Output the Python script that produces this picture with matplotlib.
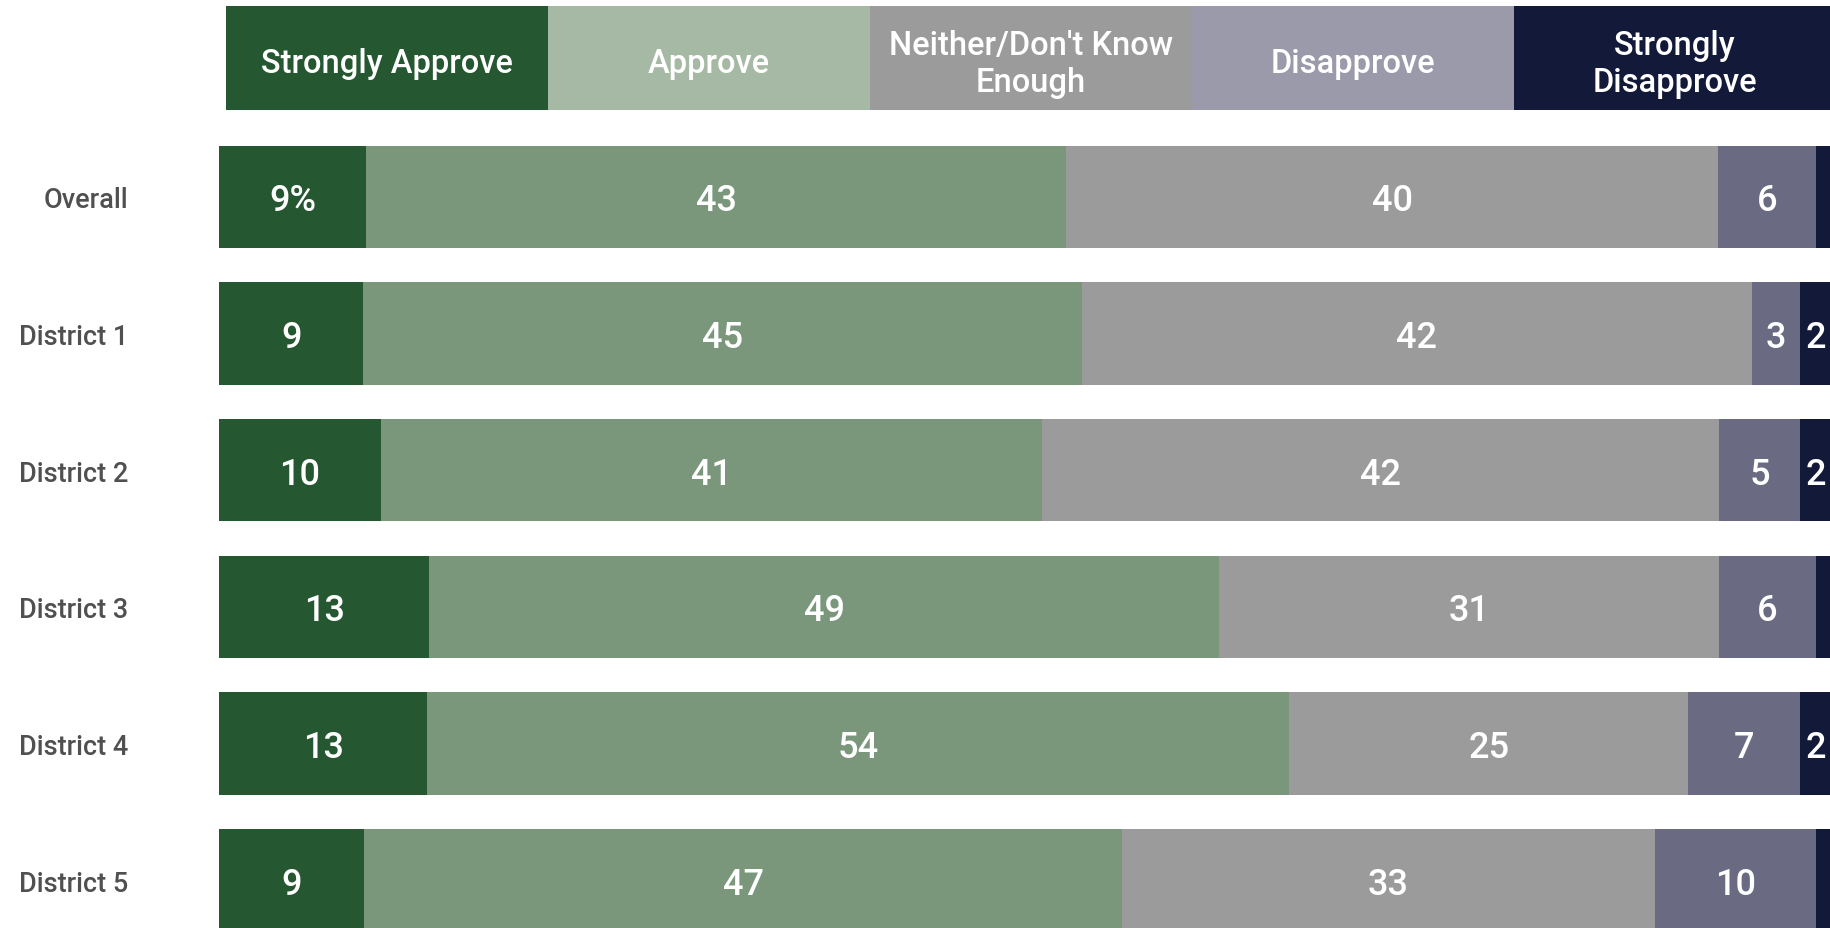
import matplotlib
matplotlib.use("Agg")
import matplotlib.pyplot as plt
import numpy as np

# Survey responses (percent) by area
categories = ["Overall", "District 1", "District 2", "District 3", "District 4", "District 5"]
response_labels = ["Strongly Approve", "Approve", "Neither/Don't Know\nEnough", "Disapprove",
                   "Strongly\nDisapprove"]
strongly_approve = [9, 9, 10, 13, 13, 9]
approve = [43, 45, 41, 49, 54, 47]
neither = [40, 42, 42, 31, 25, 33]
disapprove = [6, 3, 5, 6, 7, 10]
strongly_disapprove = [1, 2, 2, 1, 2, 1]

bar_colors = ["#255730", "#7a977b", "#9b9b9b", "#6a6a82", "#131939"]
header_colors = ["#255730", "#a6b9a4", "#9b9b9b", "#9b9aab", "#131939"]

FONT = "Roboto"
W, H = 1831, 929
fig = plt.figure(figsize=(W / 100, H / 100), dpi=100)
fig.patch.set_facecolor("white")

# ---- main stacked bars (each row normalised to 100%) ----
left_px, right_px = 219.3, 1832.0
row0_px, pitch_px, bar_px = 197.8, 136.7, 102.3
ax = fig.add_axes([left_px / W, 0, (right_px - left_px) / W, 1])
ax.set_xlim(0, 100)
ax.set_ylim((H - row0_px) / pitch_px, -row0_px / pitch_px)
ax.axis("off")

series = np.array([strongly_approve, approve, neither, disapprove, strongly_disapprove], dtype=float)
totals = series.sum(axis=0)
shares = series / totals * 100
y = np.arange(len(categories))
cum = np.zeros(len(categories))
for k in range(series.shape[0]):
    ax.barh(y, shares[k], left=cum, height=bar_px / pitch_px, color=bar_colors[k],
            linewidth=0)
    for i in range(len(categories)):
        val = series[k, i]
        if val >= 2:
            txt = f"{int(val)}%" if (k == 0 and i == 0) else f"{int(val)}"
            ax.text(cum[i] + shares[k, i] / 2, y[i], txt, ha="center", va="center_baseline",
                    color="white", fontsize=26, fontfamily=FONT, fontweight="medium")
    cum += shares[k]

# row labels, placed in figure pixel space
for i, name in enumerate(categories):
    fig.text(128 / W, 1 - (row0_px + pitch_px * i) / H, name, ha="right",
             va="center_baseline", fontsize=19.5, color="#505050", fontfamily=FONT,
             fontweight="medium")

# ---- header legend ----
hx0, hw = 226.4, 321.8
htop, hbot = 7.0, 110.7
hax = fig.add_axes([hx0 / W, (H - hbot) / H, 5 * hw / W, (hbot - htop) / H])
hax.set_xlim(0, len(response_labels))
hax.set_ylim(0, 1)
hax.axis("off")
hax.bar(np.arange(len(response_labels)), 1, width=1, align="edge", color=header_colors,
        linewidth=0)
for k, lab in enumerate(response_labels):
    yy = 0.45 if "\n" in lab else 0.455
    hax.text(k + 0.5, yy, lab, ha="center", va="center", color="white", fontsize=23.5,
             fontfamily=FONT, fontweight="medium", linespacing=1.2)

fig.savefig("out.png", dpi=100, facecolor="white")
